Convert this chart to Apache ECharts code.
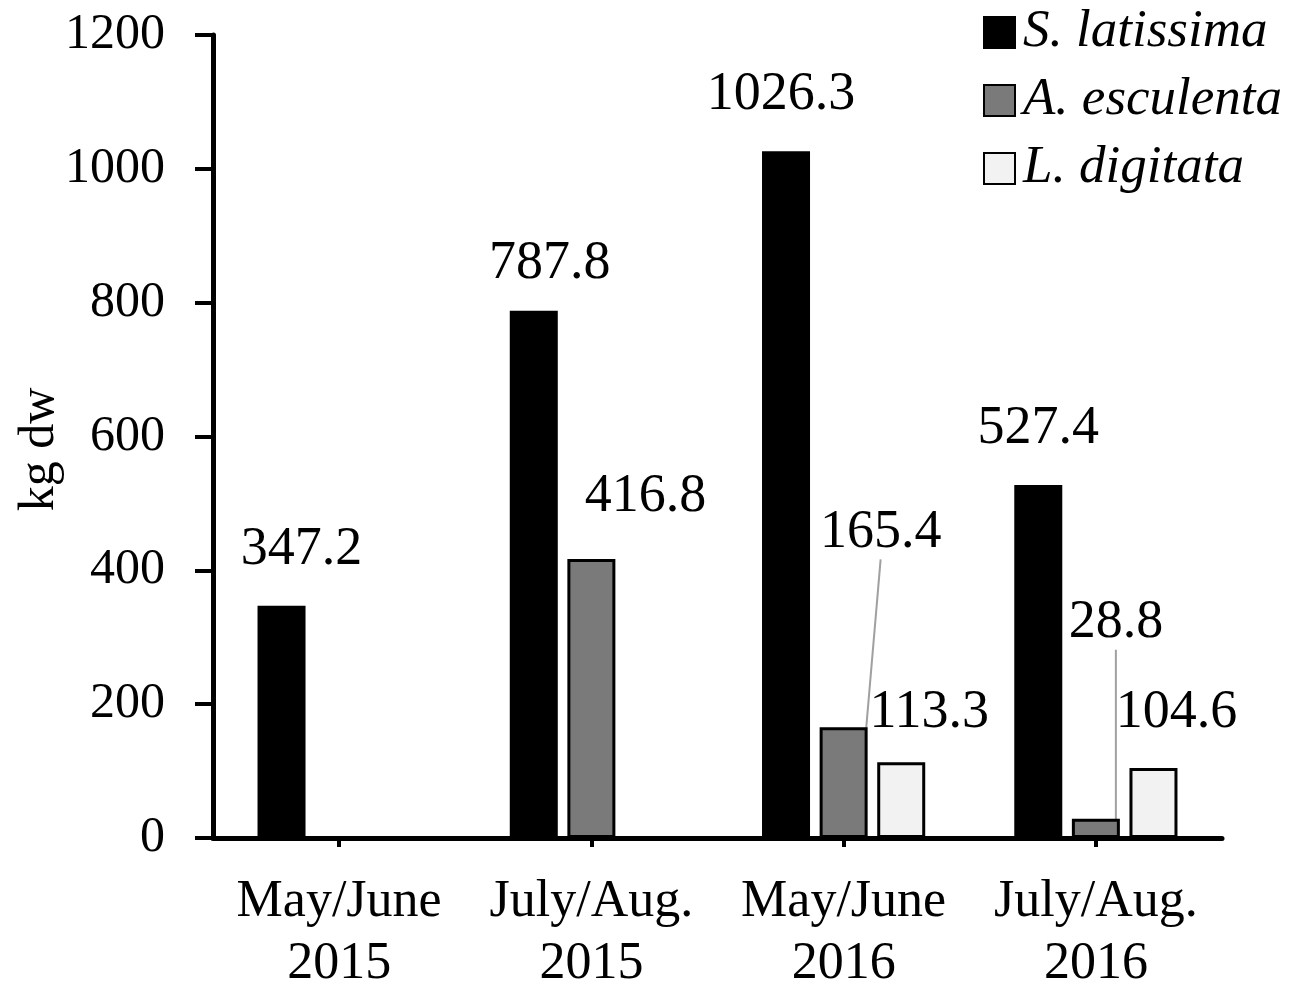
<!DOCTYPE html>
<html><head><meta charset="utf-8">
<script src="https://cdn.jsdelivr.net/npm/echarts@6/dist/echarts.min.js"></script>
<style>html,body{margin:0;padding:0;background:#fff}#c{width:1299px;height:990px}</style>
</head><body><div id="c"></div>
<script>
// ---- data ----
const categories = ['May/June\n2015', 'July/Aug.\n2015', 'May/June\n2016', 'July/Aug.\n2016'];
const seriesNames = ['S. latissima', 'A. esculenta', 'L. digitata'];
const sLatissima = [347.2, 787.8, 1026.3, 527.4];
const aEsculenta = [null, 416.8, 165.4, 28.8];
const lDigitata  = [null, null, 113.3, 104.6];
const yMin = 0, yMax = 1200, yInterval = 200;

// ---- style / label placement (relative to each bar: dx from bar centre, height above bar top) ----
const FONT = '"Liberation Serif", "Times New Roman", serif';
const labelNudge = [
  [[20, 56], [16, 47], [-5, 56], [0, 56]],
  [null, [54, 62], [37, 195], [20, 196]],
  [null, null, [28, 49], [23, 55]]
];
const leader = [
  [false, false, false, false],
  [false, false, true, true],
  [false, false, false, false]
];
const colors = ['#000000', '#7a7a7a', '#f2f2f2'];

function makeSeries(i, values) {
  return {
    name: seriesNames[i],
    type: 'bar',
    barWidth: 48,
    barGap: '20%',
    data: values.map((v, j) => v == null ? null : { value: v, labelLine: { show: leader[i][j] } }),
    itemStyle: { color: colors[i], borderColor: '#000', borderWidth: 3 },
    label: {
      show: true, position: 'top',
      formatter: p => Number(p.value).toFixed(1),
      fontFamily: FONT, fontSize: 54, lineHeight: 54, color: '#000'
    },
    labelLine: { show: false, lineStyle: { color: '#a0a0a0', width: 2 } },
    labelLayout: function (p) {
      const n = labelNudge[i][p.dataIndex];
      if (!n) return {};
      const r = p.rect;
      const top = Math.min(r.y, r.y + r.height);
      return { x: r.x + r.width / 2 + n[0], y: top - n[1], align: 'center', verticalAlign: 'middle' };
    }
  };
}

const chart = echarts.init(document.getElementById('c'), null, { renderer: 'canvas' });
chart.setOption({
  animation: false,
  backgroundColor: '#fff',
  grid: { left: 213, right: 77, top: 35, bottom: 152, containLabel: false, outerBoundsMode: 'none' },
  legend: {
    orient: 'vertical', left: 978, top: 1,
    itemWidth: 31, itemHeight: 31, itemGap: 15, icon: 'rect',
    textStyle: { fontFamily: FONT, fontStyle: 'italic', fontSize: 53, lineHeight: 52, color: '#000', padding: [0, 0, 0, 3] },
    data: seriesNames
  },
  xAxis: {
    type: 'category', data: categories,
    axisLine: { lineStyle: { color: '#000', width: 5 } },
    axisTick: { show: true, alignWithLabel: true, length: 9, lineStyle: { color: '#000', width: 4 } },
    axisLabel: { interval: 0, fontFamily: FONT, fontSize: 52, lineHeight: 62, color: '#000', margin: 33 },
    splitLine: { show: false }
  },
  yAxis: {
    type: 'value', min: yMin, max: yMax, interval: yInterval,
    name: 'kg dw', nameLocation: 'middle', nameGap: 148, nameRotate: 90, nameMoveOverlap: false,
    nameTextStyle: { fontFamily: FONT, fontSize: 50, color: '#000', padding: [0, 26, 0, 0] },
    axisLine: { show: true, lineStyle: { color: '#000', width: 5 } },
    axisTick: { show: true, length: 18, lineStyle: { color: '#000', width: 4 } },
    axisLabel: { fontFamily: FONT, fontSize: 50, color: '#000', margin: 48, formatter: v => String(v) },
    splitLine: { show: false }
  },
  series: [
    makeSeries(0, sLatissima),
    makeSeries(1, aEsculenta),
    makeSeries(2, lDigitata)
  ]
});
</script></body></html>
